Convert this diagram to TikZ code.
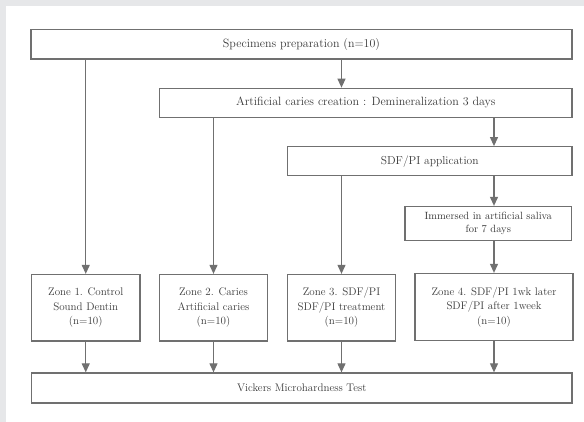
\documentclass[tikz,border=0pt]{standalone}
\usepackage{fontspec}
\usetikzlibrary{arrows.meta}
\definecolor{bggray}{HTML}{E6E7E9}
\definecolor{boxline}{HTML}{707070}
\definecolor{txt}{HTML}{3A3A3A}
\begin{document}
\begin{tikzpicture}[x=1pt,y=-1pt,
  box/.style={draw=boxline, line width=1.3pt, rectangle, inner sep=0pt, text=txt, align=center,
    font=\fontsize{11}{14.5}\selectfont},
  arr/.style={draw=boxline, line width=1.1pt, -{Triangle[length=9pt,width=8pt]}},
  ln/.style={draw=boxline, line width=1.1pt}]
\useasboundingbox (0,0) rectangle (584,422);
\fill[bggray] (0,0) rectangle (584,422);
\fill[white] (6,6) rectangle (584,422);

\node[box, minimum width=541pt, minimum height=29.5pt, font=\fontsize{12}{14}\selectfont\addfontfeature{LetterSpace=5}] (top) at (301.5,44.25) {Specimens preparation (n=10)};
\node[box, minimum width=412.5pt, minimum height=29.2pt, font=\fontsize{12}{14}\selectfont\addfontfeature{LetterSpace=2}] (art) at (365.75,102.9) {Artificial caries creation : Demineralization 3 days};
\node[box, minimum width=284.5pt, minimum height=29pt, font=\fontsize{11.5}{14}\selectfont] (sdf) at (429.75,161.25) {SDF/PI application};
\node[box, minimum width=166.5pt, minimum height=34pt, font=\fontsize{10.5}{13.3}\selectfont] (imm) at (488.25,223.5) {Immersed in artificial saliva\\for 7 days};
\node[box, minimum width=108.5pt, minimum height=66.5pt] (z1) at (85.75,307.75) {Zone 1. Control\\Sound Dentin\\(n=10)};
\node[box, minimum width=108pt, minimum height=66.5pt] (z2) at (213.5,307.75) {Zone 2. Caries\\Artificial caries\\(n=10)};
\node[box, minimum width=108pt, minimum height=66.5pt] (z3) at (341.5,307.75) {Zone 3. SDF/PI\\SDF/PI treatment\\(n=10)};
\node[box, minimum width=158pt, minimum height=67pt] (z4) at (494,307) {Zone 4. SDF/PI 1wk later\\SDF/PI after 1week\\(n=10)};
\node[box, minimum width=540.5pt, minimum height=30pt] (vick) at (301.75,388) {Vickers Microhardness Test};

\draw[arr] (top.south -| z3.center) -- (art.north -| z3.center);
\draw[arr] (top.south -| z1.center) -- (z1.north);
\draw[arr] (art.south -| z2.center) -- (z2.north);
\draw[arr] (art.south -| z4.center) -- (sdf.north -| z4.center);
\draw[arr] (sdf.south -| z3.center) -- (z3.north);
\draw[arr] (sdf.south -| z4.center) -- (imm.north -| z4.center);
\draw[arr] (imm.south -| z4.center) -- (z4.north);
\draw[arr] (z1.south) -- (vick.north -| z1.center);
\draw[arr] (z2.south) -- (vick.north -| z2.center);
\draw[arr] (z3.south) -- (vick.north -| z3.center);
\draw[arr] (z4.south) -- (vick.north -| z4.center);
\end{tikzpicture}
\end{document}
